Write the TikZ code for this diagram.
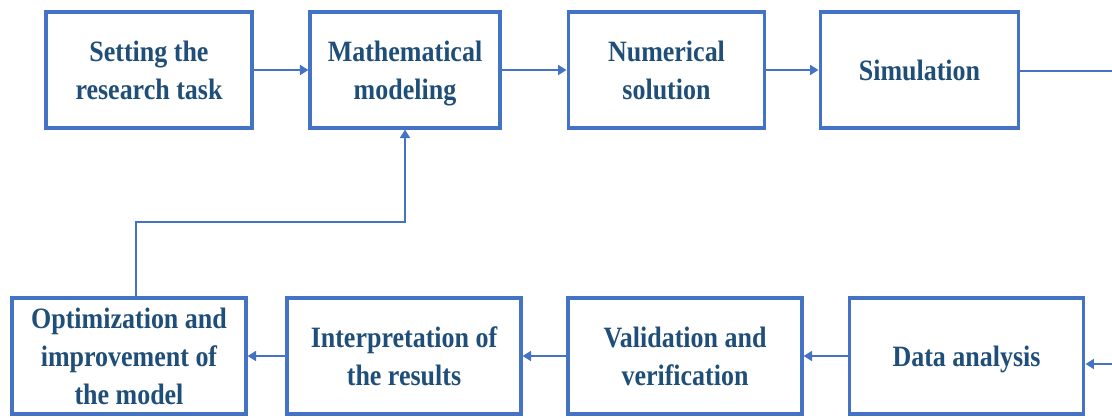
\documentclass[tikz,border=0pt]{standalone}
\usepackage{fontspec}
\setmainfont{Liberation Serif}[FakeStretch=0.88]
\usetikzlibrary{arrows.meta}
\definecolor{boxblue}{HTML}{4472C4}
\definecolor{textblue}{HTML}{1F4E79}

\begin{document}
\begin{tikzpicture}[
        x=0.025cm, y=-0.025cm,
        box/.style={draw=boxblue, line width=2.2pt, rectangle, minimum height=2.9cm,
            text depth=-3pt, align=center, text=textblue,
            font=\fontsize{21}{27}\selectfont\bfseries},
        arrow/.style={-{Triangle[length=6pt,width=7pt]}, draw=boxblue, line width=1.5pt},
        line/.style={draw=boxblue, line width=1.5pt}
    ]
        \useasboundingbox (0,0) rectangle (1112,417);

        \node[box, minimum width=5.15cm] (task) at (149,70) {Setting the\\research task};
        \node[box, minimum width=4.75cm] (model) at (405,70) {Mathematical\\modeling};
        \node[box, minimum width=4.92cm] (solve) at (666.5,70) {Numerical\\solution};
        \node[box, minimum width=4.97cm] (sim) at (919.5,70) {Simulation};

        \node[box, minimum width=5.85cm] (optim) at (129,356) {Optimization and\\improvement of\\the model};
        \node[box, minimum width=5.85cm] (interp) at (404,356) {Interpretation of\\the results};
        \node[box, minimum width=5.85cm] (valid) at (685,356) {Validation and\\verification};
        \node[box, minimum width=5.87cm] (data) at (966.5,356) {Data analysis};

        \draw[arrow] (task) -- (model);
        \draw[arrow] (model) -- (solve);
        \draw[arrow] (solve) -- (sim);

        % loop leaves the picture on the right
        \coordinate (outR) at (1112,71);
        \coordinate (inR) at (1112,364);
        \draw[line] (sim.east |- outR) -- (outR);
        \draw[arrow] (inR) -- (inR -| data.east);

        \draw[arrow] (data) -- (valid);
        \draw[arrow] (valid) -- (interp);
        \draw[arrow] (interp) -- (optim);

        % feedback to the model
        \coordinate (back) at (136,222);
        \draw[arrow] (back |- optim.north) -- (back) -| (model.south);
    \end{tikzpicture}
\end{document}
